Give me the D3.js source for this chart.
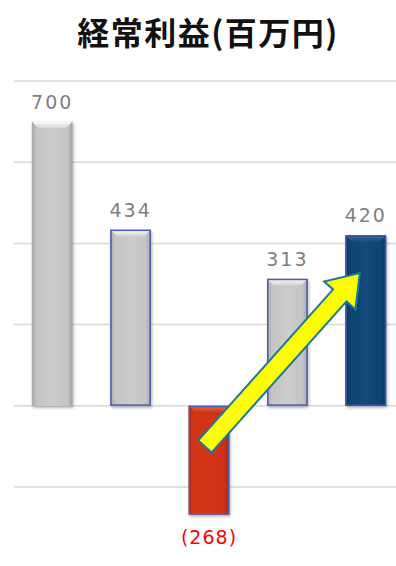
<!DOCTYPE html>
<html><head><meta charset="utf-8">
<script src="https://cdn.jsdelivr.net/npm/d3@7"></script>
<style>body{margin:0;background:#fff}svg{display:block}</style>
</head><body>
<script>
const categories = ["A","B","C","D","E"];
const values = [700, 434, -268, 313, 420];
const labels = ["700","434","(268)","313","420"];
const gridTicks = [-200, 0, 200, 400, 600, 800];
const arrowFrom = {cat:"C", value:-100};
const arrowTo = {cat:"E", value:327};

const W=396,H=566;
const svg=d3.select("body").append("svg").attr("width",W).attr("height",H);
const x=d3.scaleBand().domain(categories).range([13,405]).paddingInner(0.48).paddingOuter(0.24);
const y=d3.scaleLinear().domain([-200,800]).range([487,81]);

const defs=svg.append("defs");
function grad(id,stops,horiz=true){
  const g=defs.append("linearGradient").attr("id",id);
  if(horiz) g.attr("x1","0").attr("x2","1").attr("y1","0").attr("y2","0");
  else g.attr("x1","0").attr("x2","0").attr("y1","0").attr("y2","1");
  stops.forEach(s=>g.append("stop").attr("offset",s[0]).attr("stop-color",s[1]));
}
grad("gGrey",[[0,"#a8a8a8"],[0.12,"#c4c4c4"],[0.5,"#cccccc"],[0.88,"#c4c4c4"],[1,"#a0a0a0"]]);
grad("gRed",[[0,"#b82a10"],[0.12,"#d03414"],[0.5,"#d33516"],[0.88,"#cc3212"],[1,"#a82410"]]);
grad("gNavy",[[0,"#0a3560"],[0.12,"#0f4470"],[0.5,"#124a78"],[0.88,"#0f4470"],[1,"#0a3058"]]);
grad("gTopGrey",[[0,"#ffffff"],[1,"#d0d0d0"]],false);
grad("gTopRed",[[0,"#e86a4a"],[1,"#d03414"]],false);
grad("gTopNavy",[[0,"#3a6a9a"],[1,"#124a78"]],false);
const f=defs.append("filter").attr("id","shadow").attr("x","-30%").attr("y","-10%").attr("width","160%").attr("height","130%");
f.append("feDropShadow").attr("dx",1).attr("dy",2).attr("stdDeviation",1.5).attr("flood-color","#000").attr("flood-opacity",0.3);

// gridlines
svg.append("g").selectAll("line").data(gridTicks).join("line")
  .attr("x1",14).attr("x2",W).attr("y1",d=>y(d)).attr("y2",d=>y(d))
  .attr("stroke","#d9d9d9").attr("stroke-width",1.5);

// title
svg.append("text").attr("x",208).attr("y",45).attr("text-anchor","middle")
  .attr("font-family","'Noto Sans CJK JP'").attr("font-weight","bold").attr("font-size",32)
  .attr("letter-spacing",1.5)
  .attr("fill","#111").text("経常利益(百万円)");

const styles=[
  {fill:"url(#gGrey)",top:"url(#gTopGrey)",stroke:"none"},
  {fill:"url(#gGrey)",top:"url(#gTopGrey)",stroke:"#4a5db0"},
  {fill:"url(#gRed)",top:"url(#gTopRed)",stroke:"#4a5db0"},
  {fill:"url(#gGrey)",top:"url(#gTopGrey)",stroke:"#4a5db0"},
  {fill:"url(#gNavy)",top:"url(#gTopNavy)",stroke:"#3a56a8"}
];
const bars=svg.append("g").selectAll("g").data(values).join("g");
bars.each(function(v,i){
  const g=d3.select(this);
  const x0=x(categories[i]), bw=x.bandwidth();
  const y0=y(Math.max(0,v)), h=Math.abs(y(v)-y(0));
  const s=styles[i];
  g.append("rect").attr("x",x0).attr("y",y0).attr("width",bw).attr("height",h)
    .attr("fill",s.fill).attr("filter","url(#shadow)");
  const b=7;
  g.append("path").attr("d",`M${x0},${y0}L${x0+bw},${y0}L${x0+bw-b},${y0+b}L${x0+b},${y0+b}Z`)
    .attr("fill",s.top);
  if(s.stroke!=="none") g.append("rect").attr("x",x0+0.75).attr("y",y0+0.75).attr("width",bw-1.5).attr("height",h-1.5)
    .attr("fill","none").attr("stroke",s.stroke).attr("stroke-width",1.5);
});

// labels
svg.append("g").selectAll("text").data(values).join("text")
  .attr("x",(d,i)=>x(categories[i])+x.bandwidth()/2)
  .attr("y",d=>d>=0? y(d)-13 : y(d)+29)
  .attr("text-anchor","middle").attr("font-family","'DejaVu Sans'")
  .attr("font-size",19).attr("letter-spacing",d=>d>=0?2:1)
  .attr("fill",d=>d>=0?"#7f7f7f":"#ff0000")
  .text((d,i)=>labels[i]);

// arrow
const ax0=x(arrowFrom.cat)+x.bandwidth()/2-4, ay0=y(arrowFrom.value);
const ax1=x(arrowTo.cat)+x.bandwidth()/2-6, ay1=y(arrowTo.value);
const dx=ax1-ax0, dy=ay1-ay0, L=Math.hypot(dx,dy);
const ang=Math.atan2(dy,dx)*180/Math.PI;
const sw=9, hl=30, hw=21;
svg.append("path")
  .attr("transform",`translate(${ax0},${ay0}) rotate(${ang})`)
  .attr("d",`M0,${-sw}L${L-hl},${-sw}L${L-hl},${-hw}L${L},0L${L-hl},${hw}L${L-hl},${sw}L0,${sw}Z`)
  .attr("fill","#ffff00").attr("stroke","#1a7a9e").attr("stroke-width",2).attr("stroke-linejoin","miter");
</script>
</body></html>
